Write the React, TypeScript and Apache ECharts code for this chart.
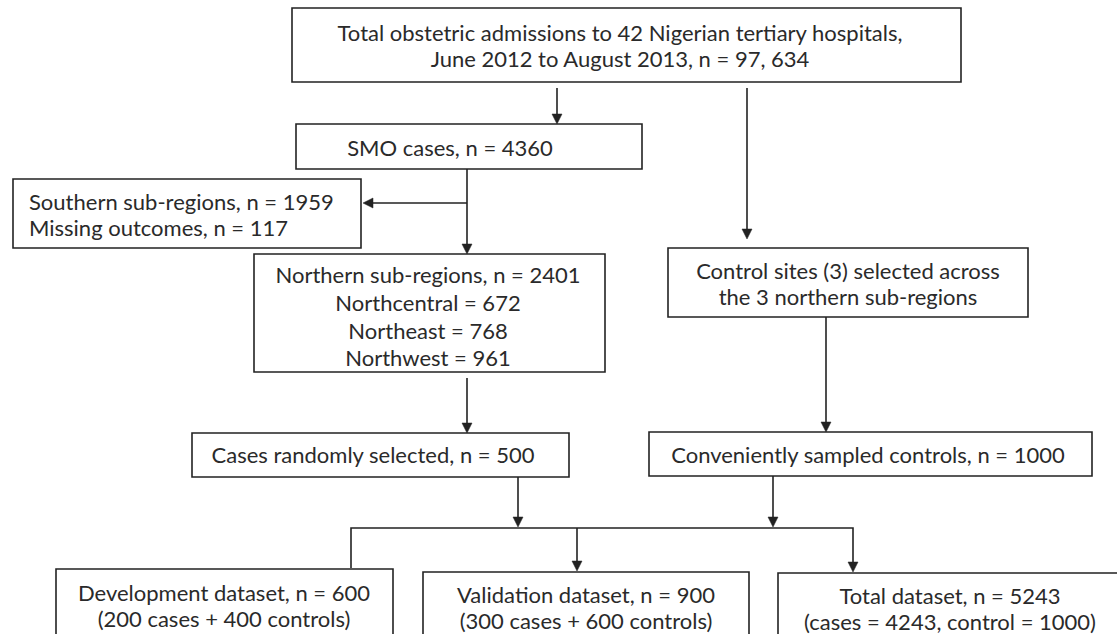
import React, { useEffect, useRef } from "react";
import * as echarts from "echarts";

// ---- Flowchart content (text and counts) ----
const totalAdmissionLines = [
  "Total obstetric admissions to 42 Nigerian tertiary hospitals,",
  "June 2012 to August 2013, n = 97, 634",
];
const smoLines = ["SMO cases, n = 4360"];
const southernLines = ["Southern sub-regions, n = 1959", "Missing outcomes, n = 117"];
const subRegionNames = ["Northcentral", "Northeast", "Northwest"];
const subRegionCounts = [672, 768, 961];
const northernTotal = 2401;
const controlSiteLines = ["Control sites (3) selected across", "the 3 northern sub-regions"];
const casesLines = ["Cases randomly selected, n = 500"];
const controlsLines = ["Conveniently sampled controls, n = 1000"];
const developmentLines = ["Development dataset, n = 600", "(200 cases + 400 controls)"];
const validationLines = ["Validation dataset, n = 900", "(300 cases + 600 controls)"];
const totalDatasetLines = ["Total dataset, n = 5243", "(cases = 4243, control = 1000)"];

const northernLines = [
  `Northern sub-regions, n = ${northernTotal}`,
  ...subRegionNames.map((n, i) => `${n} = ${subRegionCounts[i]}`),
];

// ---- Layout ----
type Box = {
  lines: string[];
  x: number;
  y: number;
  w: number;
  h: number;
  tx: number;
  ty: number[];
  align?: "left" | "center";
};

const boxes: Box[] = [
  { lines: totalAdmissionLines, x: 292, y: 8, w: 669, h: 74, tx: 620, ty: [32, 58] },
  { lines: smoLines, x: 296, y: 124, w: 346, h: 45, tx: 450, ty: [147] },
  { lines: southernLines, x: 13, y: 179, w: 348, h: 69, tx: 29, ty: [201, 227], align: "left" },
  { lines: northernLines, x: 254, y: 254, w: 351, h: 118, tx: 428, ty: [274, 302, 330, 357] },
  { lines: controlSiteLines, x: 668, y: 248, w: 360, h: 69, tx: 848, ty: [270, 296] },
  { lines: casesLines, x: 192, y: 433, w: 377, h: 44, tx: 373, ty: [454] },
  { lines: controlsLines, x: 649, y: 432, w: 443, h: 44, tx: 868, ty: [454] },
  { lines: developmentLines, x: 56, y: 569, w: 337, h: 90, tx: 224, ty: [592, 618] },
  { lines: validationLines, x: 423, y: 572, w: 326, h: 90, tx: 586, ty: [594, 620] },
  { lines: totalDatasetLines, x: 778, y: 573, w: 344, h: 90, tx: 950, ty: [595, 621] },
];

type Conn = { pts: number[][]; head: boolean };
const connectors: Conn[] = [
  { pts: [[557, 88], [557, 124]], head: true },
  { pts: [[747, 88], [747, 239]], head: true },
  { pts: [[467, 203], [363, 203]], head: true },
  { pts: [[467, 169], [467, 254]], head: true },
  { pts: [[467, 378], [467, 433]], head: true },
  { pts: [[826, 317], [826, 432]], head: true },
  { pts: [[518, 477], [518, 527]], head: true },
  { pts: [[773, 476], [773, 527]], head: true },
  { pts: [[351, 568], [351, 528], [853, 528], [853, 572]], head: true },
  { pts: [[577, 528], [577, 571]], head: true },
];

const INK = "#222";
const TEXT_INK = "#2a2a2a";
const FONT = "Lato";
const FONT_SIZE = 22;

function arrowHead(from: number[], to: number[]) {
  const dx = to[0] - from[0];
  const dy = to[1] - from[1];
  const len = Math.hypot(dx, dy) || 1;
  const ux = dx / len;
  const uy = dy / len;
  const L = 10;
  const W = 5;
  const bx = to[0] - ux * L;
  const by = to[1] - uy * L;
  return [
    [to[0], to[1]],
    [bx - uy * W, by + ux * W],
    [bx + uy * W, by - ux * W],
  ];
}

export default function App() {
  const ref = useRef<HTMLDivElement>(null);
  useEffect(() => {
    if (!ref.current) return;
    const chart = echarts.init(ref.current, undefined, { renderer: "svg" });
    const elements: any[] = [];
    boxes.forEach((b) => {
      elements.push({
        type: "rect",
        shape: { x: b.x, y: b.y, width: b.w, height: b.h },
        style: { fill: "#fff", stroke: INK, lineWidth: 1.6 },
      });
      b.lines.forEach((t, i) => {
        elements.push({
          type: "text",
          x: b.tx,
          y: b.ty[i],
          style: {
            text: t,
            fill: TEXT_INK,
            font: `${FONT_SIZE}px ${FONT}`,
            fontFamily: FONT,
            fontSize: FONT_SIZE,
            lineHeight: 24,
            align: b.align || "center",
            verticalAlign: "middle",
          },
        });
      });
    });
    connectors.forEach((c) => {
      const pts = c.pts.map((p) => [p[0], p[1]]);
      const n = pts.length;
      const last = pts[n - 1];
      const prev = pts[n - 2];
      const head = arrowHead(prev, last);
      const lineEnd = [(head[1][0] + head[2][0]) / 2, (head[1][1] + head[2][1]) / 2];
      const linePts = c.head ? [...pts.slice(0, n - 1), lineEnd] : pts;
      elements.push({
        type: "polyline",
        shape: { points: linePts },
        style: { stroke: INK, lineWidth: 1.6, fill: "none" },
      });
      if (c.head) {
        elements.push({
          type: "polygon",
          shape: { points: head },
          style: { fill: INK, stroke: INK, lineWidth: 0.5 },
        });
      }
    });
    chart.setOption({
      animation: false,
      backgroundColor: "#ffffff",
      graphic: { elements },
    });
    return () => chart.dispose();
  }, []);
  return (
    <div
      ref={ref}
      style={{ position: "fixed", left: 0, top: 0, width: 1117, height: 634, background: "#fff" }}
    />
  );
}
